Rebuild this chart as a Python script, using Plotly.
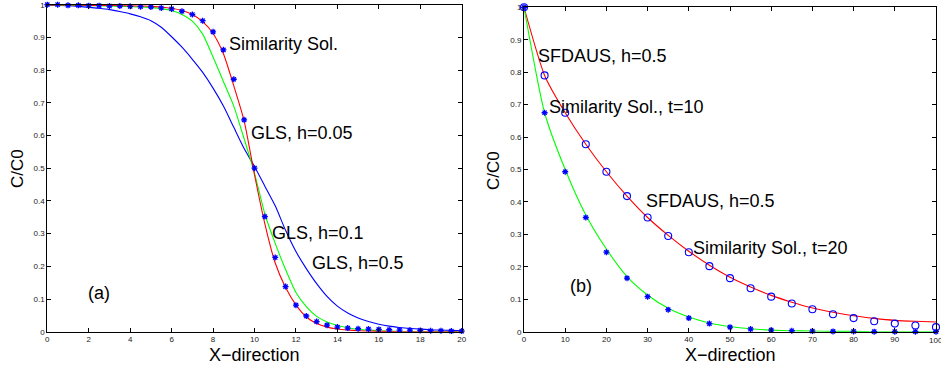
import plotly.graph_objects as go

# ---------------- Panel (a) data ----------------
xa = [0, 0.5, 1, 1.5, 2, 2.5, 3, 3.5, 4, 4.5, 5, 5.5, 6, 6.5, 7, 7.5, 8, 8.5, 9, 9.5,
      10, 10.5, 11, 11.5, 12, 12.5, 13, 13.5, 14, 14.5, 15, 15.5, 16, 16.5, 17, 17.5,
      18, 18.5, 19, 19.5, 20]
sim_a = [1.0, 1.0, 0.998, 0.998, 0.997, 0.997, 0.996, 0.996, 0.995, 0.994, 0.993, 0.99,
         0.987, 0.98, 0.97, 0.951, 0.917, 0.862, 0.772, 0.648, 0.5, 0.352, 0.227, 0.138,
         0.081, 0.048, 0.031, 0.02, 0.014, 0.011, 0.009, 0.008, 0.007, 0.006, 0.005,
         0.005, 0.004, 0.003, 0.003, 0.002, 0.002]
gls_005 = [1.0, 0.999, 0.999, 0.999, 0.998, 0.998, 0.998, 0.997, 0.997, 0.996, 0.995,
           0.993, 0.989, 0.982, 0.97, 0.948, 0.912, 0.85, 0.752, 0.645, 0.48, 0.33,
           0.21, 0.135, 0.082, 0.045, 0.025, 0.014, 0.008, 0.005, 0.003, 0.002, 0.001,
           0.001, 0.0, 0.0, 0.0, 0.0, 0.0, 0.0, 0.0]
gls_01 = [1.0, 0.999, 0.998, 0.998, 0.997, 0.997, 0.996, 0.995, 0.994, 0.993, 0.991,
          0.988, 0.982, 0.97, 0.95, 0.91, 0.84, 0.765, 0.69, 0.59, 0.485, 0.36, 0.27,
          0.19, 0.12, 0.077, 0.047, 0.03, 0.019, 0.012, 0.007, 0.005, 0.003, 0.002,
          0.001, 0.0, 0.0, 0.0, 0.0, 0.0, 0.0]
gls_05 = [0.999, 0.998, 0.997, 0.995, 0.992, 0.989, 0.985, 0.979, 0.972, 0.963, 0.951,
          0.931, 0.902, 0.87, 0.833, 0.793, 0.745, 0.69, 0.625, 0.56, 0.505, 0.445, 0.385,
          0.31, 0.245, 0.193, 0.147, 0.108, 0.078, 0.057, 0.042, 0.031, 0.023, 0.017,
          0.013, 0.01, 0.008, 0.006, 0.005, 0.004, 0.003]

# ---------------- Panel (b) data ----------------
xb = [0, 5, 10, 15, 20, 25, 30, 35, 40, 45, 50, 55, 60, 65, 70, 75, 80, 85, 90, 95, 100]
sim_t10 = [1.0, 0.675, 0.493, 0.352, 0.245, 0.165, 0.108, 0.068, 0.042, 0.025, 0.014,
           0.008, 0.005, 0.003, 0.002, 0.001, 0.001, 0.0, 0.0, 0.0, 0.0]
sim_t20 = [1.0, 0.79, 0.675, 0.578, 0.493, 0.418, 0.352, 0.295, 0.245, 0.202, 0.165,
           0.134, 0.108, 0.087, 0.069, 0.054, 0.042, 0.032, 0.025, 0.019, 0.014]
sfd_t10 = [1.0, 0.675, 0.5, 0.36, 0.255, 0.17, 0.113, 0.072, 0.045, 0.027, 0.016,
           0.009, 0.005, 0.003, 0.002, 0.001, 0.001, 0.0, 0.0, 0.0, 0.0]
sfd_t20 = [1.0, 0.79, 0.675, 0.578, 0.493, 0.418, 0.352, 0.297, 0.248, 0.205, 0.168,
           0.138, 0.112, 0.091, 0.073, 0.06, 0.049, 0.041, 0.035, 0.032, 0.03]

yticks = [0, 0.1, 0.2, 0.3, 0.4, 0.5, 0.6, 0.7, 0.8, 0.9, 1]
xticks_a = [0, 2, 4, 6, 8, 10, 12, 14, 16, 18, 20]
xticks_b = [0, 10, 20, 30, 40, 50, 60, 70, 80, 90, 100]
xticklabels_b = ["0", "10", "20", "30", "40", "50", "60", "70", "80", "90", ""]

RED, GREEN, BLUE = "#ff0000", "#00ff00", "#0000ff"
W, H = 941, 367
FONT = "Liberation Sans, Arial, sans-serif"

fig = go.Figure()

star = dict(symbol="asterisk-open", size=5, color=BLUE, line=dict(color=BLUE, width=1.3))

# panel (a)
fig.add_trace(go.Scatter(x=xa, y=gls_05, mode="lines", line=dict(color=BLUE, width=1.1, shape="spline", smoothing=0.6),
                         xaxis="x", yaxis="y", showlegend=False))
fig.add_trace(go.Scatter(x=xa, y=gls_01, mode="lines", line=dict(color=GREEN, width=1.1, shape="spline", smoothing=0.6),
                         xaxis="x", yaxis="y", showlegend=False))
fig.add_trace(go.Scatter(x=xa, y=gls_005, mode="lines", line=dict(color=RED, width=1.1, shape="spline", smoothing=0.6),
                         xaxis="x", yaxis="y", showlegend=False))
fig.add_trace(go.Scatter(x=xa, y=sim_a, mode="markers", marker=star,
                         xaxis="x", yaxis="y", showlegend=False, cliponaxis=False))

# panel (b)
fig.add_trace(go.Scatter(x=xb, y=sfd_t20, mode="lines", line=dict(color=RED, width=1.1, shape="spline", smoothing=0.6),
                         xaxis="x2", yaxis="y2", showlegend=False))
fig.add_trace(go.Scatter(x=xb, y=sfd_t10, mode="lines", line=dict(color=GREEN, width=1.1, shape="spline", smoothing=0.6),
                         xaxis="x2", yaxis="y2", showlegend=False))
fig.add_trace(go.Scatter(x=xb, y=sim_t20, mode="markers",
                         marker=dict(symbol="circle-open", size=7, color=BLUE, line=dict(color=BLUE, width=1.1)),
                         xaxis="x2", yaxis="y2", showlegend=False, cliponaxis=False))
fig.add_trace(go.Scatter(x=xb, y=sim_t10, mode="markers", marker=star,
                         xaxis="x2", yaxis="y2", showlegend=False, cliponaxis=False))

axis_common = dict(showline=True, linecolor="black", linewidth=1, mirror="ticks",
                   ticks="inside", ticklen=4, tickcolor="black", tickwidth=1,
                   showgrid=False, zeroline=False, automargin=False,
                   tickfont=dict(family=FONT, size=8, color="#222"))

fig.update_layout(
    width=W, height=H,
    margin=dict(l=0, r=0, t=0, b=0),
    paper_bgcolor="white", plot_bgcolor="white",
    xaxis=dict(domain=[47.3 / W, 461.7 / W], range=[0, 20], tickvals=xticks_a, anchor="y", **axis_common),
    yaxis=dict(domain=[1 - 331.7 / H, 1 - 4.7 / H], range=[0, 1], tickvals=yticks, anchor="x", **axis_common),
    xaxis2=dict(domain=[524 / W, 936 / W], range=[0, 100], tickvals=xticks_b, ticktext=xticklabels_b,
                anchor="y2", **axis_common),
    yaxis2=dict(domain=[1 - 331.7 / H, 1 - 7.3 / H], range=[0, 1], tickvals=yticks, anchor="x2", **axis_common),
)

def ann(text, px, py, size=18, xanchor="left", angle=0, color="black"):
    fig.add_annotation(text=text, x=px / W, y=1 - py / H, xref="paper", yref="paper",
                       xanchor=xanchor, yanchor="middle", showarrow=False, textangle=angle,
                       font=dict(family=FONT, size=size, color=color))

# panel (a) labels
ann("Similarity Sol.", 227, 44)
ann("GLS, h=0.05", 249, 133)
ann("GLS, h=0.1", 270, 233)
ann("GLS, h=0.5", 310, 263)
ann("(a)", 86, 293)
ann("X\u2212direction", 254.5, 355, size=18, xanchor="center")
ann("C/C0", 17, 169, size=17, xanchor="center", angle=-90)

# panel (b) labels
ann("SFDAUS, h=0.5", 536, 56)
ann("Similarity Sol., t=10", 547, 107)
ann("SFDAUS, h=0.5", 644, 201)
ann("Similarity Sol., t=20", 691, 248)
ann("(b)", 568, 286)
ann("X\u2212direction", 730, 355, size=18, xanchor="center")
ann("C/C0", 494, 170, size=17, xanchor="center", angle=-90)
# last x tick label of panel (b), partly cut by the right edge as in the original
ann(str(xticks_b[-1]), 936, 340, size=8, xanchor="center", color="#222")

fig.write_html("out.html", config={"displayModeBar": False},
               post_script="document.body.style.margin='0';document.body.style.overflow='hidden';")
